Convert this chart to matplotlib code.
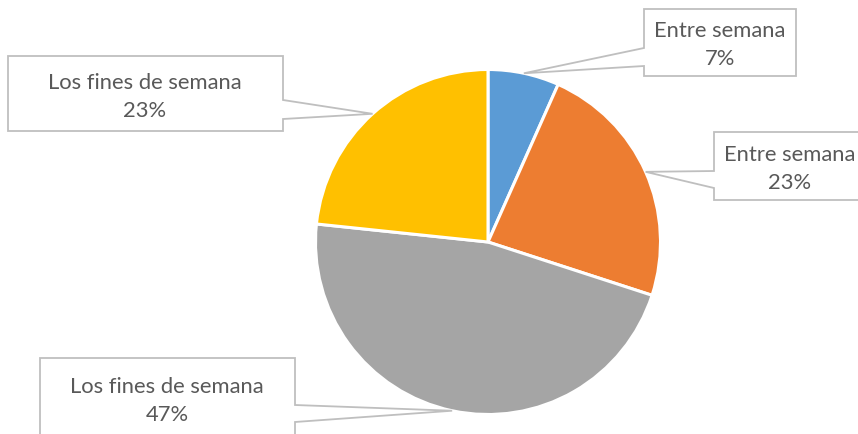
import numpy as np
import matplotlib.pyplot as plt
from matplotlib.patches import Polygon

W, H = 858, 435

labels = ['Entre semana', 'Entre semana', 'Los fines de semana', 'Los fines de semana']
values = [2, 7, 14, 7]
colors = ['#5B9BD5', '#ED7D31', '#A5A5A5', '#FFC000']

# callout boxes: (left, top, right, bottom, side, attach_y1, attach_y2, text_x, text_y) in pixels from top-left
boxes = [
    (644, 10, 796, 77, 'left', 49, 67, 720, 45),
    (714, 133, 866, 201, 'left', 172, 189, 790, 169),
    (40, 359, 295, 436, 'right', 406, 423, 167, 401),
    (8, 57, 283, 132, 'right', 101, 120, 145, 97),
]

plt.rcParams['font.family'] = ['Lato', 'DejaVu Sans']

fig = plt.figure(figsize=(W / 100, H / 100), dpi=100)
ax = fig.add_axes([0, 0, 1, 1])

cx, cy, r = 488, H - 243, 172.5
wedges, _ = ax.pie(values, colors=colors, startangle=90, counterclock=False,
                   center=(cx, cy), radius=r, frame=True,
                   wedgeprops=dict(edgecolor='white', linewidth=2.2))
ax.set_xlim(0, W)
ax.set_ylim(0, H)
ax.set_aspect('equal')
ax.axis('off')

total = sum(values)
for w, lab, v, b in zip(wedges, labels, values, boxes):
    mid = np.deg2rad((w.theta1 + w.theta2) / 2)
    ax_pt = (cx + r * np.cos(mid), cy + r * np.sin(mid))
    l, t, rt, bt, side, a1, a2, tx, ty = b
    t, bt, a1, a2, ty = H - t, H - bt, H - a1, H - a2, H - ty
    if side == 'left':
        pts = [(l, t), (rt, t), (rt, bt), (l, bt), (l, a2), ax_pt, (l, a1)]
    else:
        pts = [(l, t), (rt, t), (rt, a1), ax_pt, (rt, a2), (rt, bt), (l, bt)]
    ax.add_patch(Polygon(pts, closed=True, facecolor='white', edgecolor='#BFBFBF',
                         linewidth=1.3, zorder=3))
    ax.text(tx, ty, f'{lab}\n{round(100 * v / total)}%', ha='center', va='center',
            fontsize=15.8, color='#595959', linespacing=1.55, zorder=4)

plt.savefig('out.png', dpi=100)
